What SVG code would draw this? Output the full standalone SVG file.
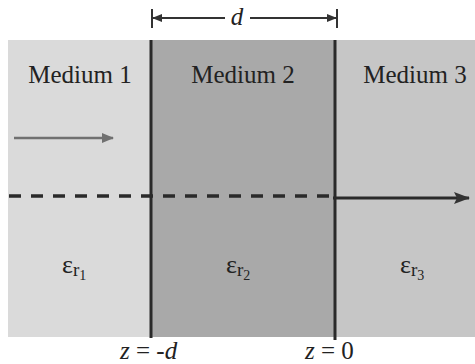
<svg xmlns="http://www.w3.org/2000/svg" width="475" height="364" viewBox="0 0 475 364">
<style>
.lbl{font-family:"Liberation Serif",serif;font-size:25px;fill:#222}
.eps{font-family:"Liberation Serif",serif;font-size:26px;fill:#222}
.it{font-style:italic}
.bd{stroke:#2a2a2a;stroke-width:3}
</style>
<defs>
<marker id="ah" markerWidth="10" markerHeight="8" refX="9" refY="4" orient="auto" markerUnits="userSpaceOnUse">
<path d="M0,0 L10,4 L0,8 Z" fill="#333"/>
</marker>
<marker id="ahg" markerWidth="12" markerHeight="10" refX="11" refY="5" orient="auto" markerUnits="userSpaceOnUse">
<path d="M0,0 L12,5 L0,10 Z" fill="#707070"/>
</marker>
<marker id="ahd" markerWidth="16" markerHeight="12" refX="15" refY="6" orient="auto" markerUnits="userSpaceOnUse">
<path d="M0,0 L16,6 L0,12 L3,6 Z" fill="#333"/>
</marker>
</defs>
<rect width="475" height="364" fill="#fff"/>
<g id="medium1">
<rect x="8" y="40" width="143" height="297" fill="#dadada"/>
<text class="lbl" x="80" y="83" text-anchor="middle">Medium 1</text>
<text class="eps" x="62" y="273">ε<tspan font-size="19" dy="3">r</tspan><tspan font-size="14" dy="4">1</tspan></text>
</g>
<g id="medium2">
<rect x="151" y="40" width="184" height="297" fill="#a9a9a9"/>
<text class="lbl" x="243" y="83" text-anchor="middle">Medium 2</text>
<text class="eps" x="226" y="273">ε<tspan font-size="19" dy="3">r</tspan><tspan font-size="14" dy="4">2</tspan></text>
</g>
<g id="medium3">
<rect x="335" y="40" width="140" height="297" fill="#c6c6c6"/>
<text class="lbl" x="415" y="83" text-anchor="middle">Medium 3</text>
<text class="eps" x="400" y="273">ε<tspan font-size="19" dy="3">r</tspan><tspan font-size="14" dy="4">3</tspan></text>
</g>
<g id="connectors">
<line class="bd" x1="151" y1="40" x2="151" y2="338"/>
<line class="bd" x1="335" y1="40" x2="335" y2="340"/>
<line x1="152" y1="9" x2="152" y2="28" stroke="#333" stroke-width="2"/>
<line x1="337" y1="9" x2="337" y2="28" stroke="#333" stroke-width="2"/>
<line x1="225" y1="18" x2="153" y2="18" stroke="#333" stroke-width="2" marker-end="url(#ah)"/>
<line x1="250" y1="18" x2="336" y2="18" stroke="#333" stroke-width="2" marker-end="url(#ah)"/>
<line x1="14" y1="138" x2="113" y2="138" stroke="#707070" stroke-width="2.5" marker-end="url(#ahg)"/>
<line x1="9" y1="196" x2="333" y2="196" stroke="#2a2a2a" stroke-width="3.5" stroke-dasharray="12,10"/>
<line x1="333" y1="198" x2="469" y2="198" stroke="#2a2a2a" stroke-width="3" marker-end="url(#ahd)"/>
</g>
<text class="lbl it" x="237" y="25" text-anchor="middle">d</text>
<text class="lbl" x="120" y="359"><tspan class="it">z</tspan> = -<tspan class="it">d</tspan></text>
<text class="lbl" x="305" y="359"><tspan class="it">z</tspan> = 0</text>
</svg>
